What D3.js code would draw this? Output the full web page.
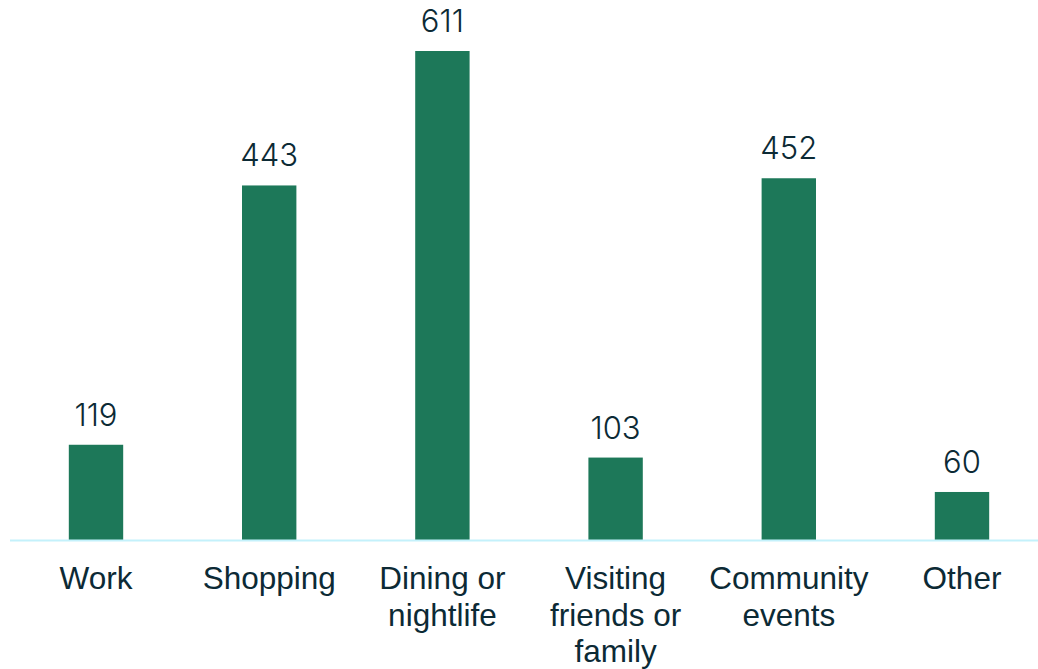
<!DOCTYPE html>
<html>
<head>
<meta charset="utf-8">
<script src="https://cdn.jsdelivr.net/npm/d3@7"></script>
<style>
  html, body { margin: 0; padding: 0; background: #ffffff; }
  svg { display: block; }
</style>
</head>
<body>
<svg id="chart" width="1038" height="669"></svg>
<script>
// Trip purposes and number of responses
const categories = [
  ["Work"],
  ["Shopping"],
  ["Dining or", "nightlife"],
  ["Visiting", "friends or", "family"],
  ["Community", "events"],
  ["Other"]
];
const counts = [119, 443, 611, 103, 452, 60];

const W = 1038, H = 669;
const baseY = 540;
const barColor = "#1d7859";
const textColor = "#0c2a35";

const svg = d3.select("#chart");

const keys = categories.map(c => c.join(" "));
const x = d3.scaleBand()
  .domain(keys)
  .range([9.4, 1048.6])
  .paddingInner(0.686)
  .paddingOuter(0.343);

const y = d3.scaleLinear()
  .domain([0, 611])
  .range([baseY, 51]);

// Bars
svg.append("g")
  .selectAll("rect")
  .data(counts)
  .join("rect")
  .attr("x", (d, i) => x(keys[i]))
  .attr("width", x.bandwidth())
  .attr("y", d => y(d))
  .attr("height", d => baseY - y(d))
  .attr("fill", barColor);

// Baseline
svg.append("line")
  .attr("x1", 10).attr("x2", W)
  .attr("y1", baseY + 0.5).attr("y2", baseY + 0.5)
  .attr("stroke", "#c4f1fb")
  .attr("stroke-width", 2);

// Value labels
svg.append("g")
  .selectAll("text")
  .data(counts)
  .join("text")
  .attr("x", (d, i) => x(keys[i]) + x.bandwidth() / 2)
  .attr("y", d => y(d) - 19)
  .attr("text-anchor", "middle")
  .attr("font-family", "Inter, 'Open Sans', sans-serif")
  .attr("font-weight", 300)
  .attr("font-size", 31)
  .attr("fill", textColor)
  .text(d => d);

// Category labels
const labels = svg.append("g")
  .selectAll("text")
  .data(categories)
  .join("text")
  .attr("x", (d, i) => x(keys[i]) + x.bandwidth() / 2)
  .attr("y", baseY + 49)
  .attr("text-anchor", "middle")
  .attr("font-family", "'Liberation Sans', Arial, sans-serif")
  .attr("font-size", 31.5)
  .attr("fill", textColor);

labels.selectAll("tspan")
  .data(d => d)
  .join("tspan")
  .attr("x", function () { return d3.select(this.parentNode).attr("x"); })
  .attr("dy", (d, i) => i === 0 ? 0 : 36.5)
  .text(d => d);
</script>
</body>
</html>
